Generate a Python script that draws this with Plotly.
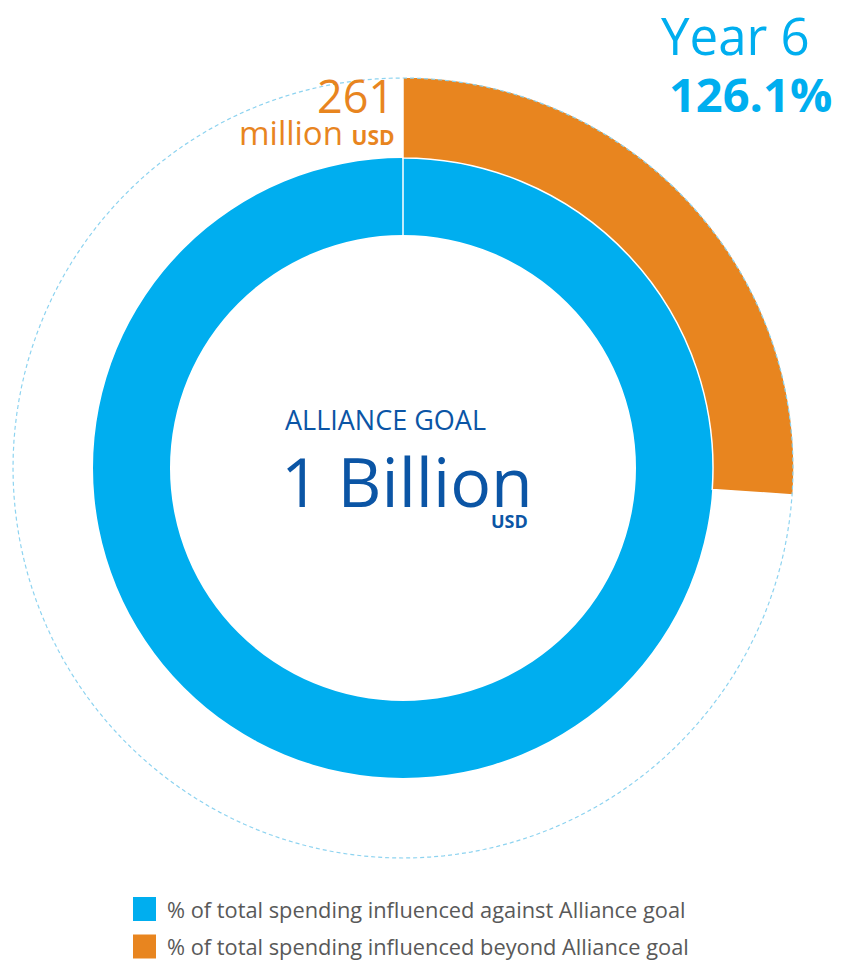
import plotly.graph_objects as go

# ---- data ----
series_names = [
    "% of total spending influenced against Alliance goal",
    "% of total spending influenced beyond Alliance goal",
]
series_pct = [100.0, 26.1]          # share of the Alliance goal
goal_label = "1 Billion"
beyond_label = "261"
year_label = "Year 6"
total_pct = sum(series_pct)         # 126.1

# ---- style ----
W, H = 843, 963
BLUE = "#00AEEF"
ORANGE = "#E8851F"
NAVY = "#0B55A5"
GREY = "#595959"
FONT = "Open Sans"
CX, CY = 403, 468                     # donut centre in px
R_IN, R_MID, R_OUT = 233, 310, 391    # ring radii in px
RMAX = 400


def px(x, y):
    return x / W, 1 - y / H


fig = go.Figure()

# dashed guide circle
theta_circle = [i for i in range(0, 361, 2)]
fig.add_trace(go.Scatterpolar(
    r=[R_OUT - 1] * len(theta_circle), theta=theta_circle, mode="lines",
    line=dict(color="#8DD3F0", width=1.2, dash="4px,3px"),
    hoverinfo="skip", showlegend=False))

# blue ring (against goal)
blue_deg = series_pct[0] / 100 * 360
fig.add_trace(go.Barpolar(
    r=[R_MID - R_IN], base=[R_IN], theta=[blue_deg / 2], width=[blue_deg],
    marker=dict(color=BLUE, line=dict(color="white", width=0)),
    name=series_names[0], showlegend=False))

# orange segment (beyond goal)
orange_deg = series_pct[1] / 100 * 360
fig.add_trace(go.Barpolar(
    r=[R_OUT - R_MID], base=[R_MID], theta=[orange_deg / 2], width=[orange_deg],
    marker=dict(color=ORANGE, line=dict(color="white", width=1.5)),
    name=series_names[1], showlegend=False))

# white seam at the top of the blue ring
fig.add_trace(go.Scatterpolar(
    r=[R_IN, R_MID], theta=[0, 0], mode="lines",
    line=dict(color="white", width=1.5), hoverinfo="skip", showlegend=False))

x0, y1 = px(CX - RMAX, CY - RMAX)
x1, y0 = px(CX + RMAX, CY + RMAX)
fig.update_layout(
    width=W, height=H, margin=dict(l=0, r=0, t=0, b=0),
    paper_bgcolor="white", plot_bgcolor="white",
    showlegend=False,
    polar=dict(
        domain=dict(x=[x0, x1], y=[y0, y1]),
        bgcolor="rgba(0,0,0,0)",
        hole=0,
        radialaxis=dict(range=[0, RMAX], visible=False, showgrid=False),
        angularaxis=dict(rotation=90, direction="clockwise", visible=False,
                         showgrid=False),
        barmode="overlay",
    ),
    font=dict(family=FONT),
)

ann = []


def add_text(text, x, y, size, color, xanchor="center", yanchor="middle"):
    ax, ay = px(x, y)
    ann.append(dict(text=text, x=ax, y=ay, xref="paper", yref="paper",
                    xanchor=xanchor, yanchor=yanchor, showarrow=False,
                    borderpad=0,
                    font=dict(family=FONT, size=size, color=color)))


add_text(year_label, 811, 35, 51, BLUE, xanchor="right")
add_text(f"<b>{total_pct:.1f}%</b>", 833, 94, 47, BLUE, xanchor="right")
add_text(beyond_label, 395, 95, 45, ORANGE, xanchor="right")
add_text("million <b><span style='font-size:21px'>USD</span></b>", 396, 133, 33,
         ORANGE, xanchor="right")
add_text("ALLIANCE GOAL", 385, 419, 27, NAVY)
add_text(goal_label, 407, 480, 68, NAVY)
add_text("<b>USD</b>", 529, 521, 18, NAVY, xanchor="right")

legend_colors = [BLUE, ORANGE]
shapes = []
for i, (name, col) in enumerate(zip(series_names, legend_colors)):
    yc = 909 + i * 37.5
    sx0, sy0 = px(133, yc - 12)
    sx1, sy1 = px(156, yc + 12)
    shapes.append(dict(type="rect", xref="paper", yref="paper",
                       x0=sx0, x1=sx1, y0=sy1, y1=sy0,
                       fillcolor=col, line=dict(width=0)))
    add_text(name, 166, yc, 21.8, GREY, xanchor="left")

fig.update_layout(annotations=ann, shapes=shapes)
fig.write_html("out.html")
